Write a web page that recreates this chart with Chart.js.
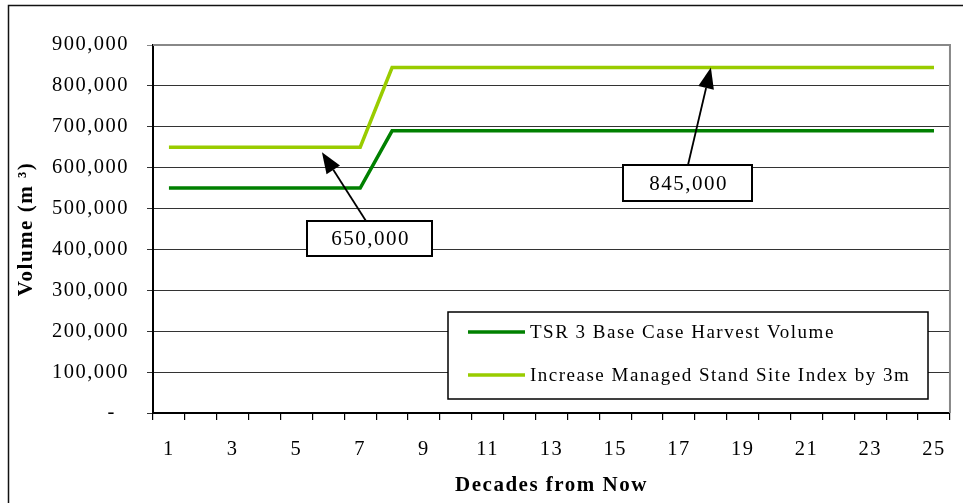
<!DOCTYPE html>
<html><head><meta charset="utf-8">
<script src="https://cdn.jsdelivr.net/npm/chart.js@4/dist/chart.umd.min.js"></script>
<style>html,body{margin:0;padding:0;background:#fff;overflow:hidden}canvas{display:block}</style>
</head><body>
<canvas id="c" width="963" height="503"></canvas>
<script>
// ---- data ----
const decades = ['1','2','3','4','5','6','7','8','9','10','11','12','13','14','15','16','17','18','19','20','21','22','23','24','25'];
const baseCase = [550000,550000,550000,550000,550000,550000,550000,690000,690000,690000,690000,690000,690000,690000,690000,690000,690000,690000,690000,690000,690000,690000,690000,690000,690000];
const increasedSI = [650000,650000,650000,650000,650000,650000,650000,845000,845000,845000,845000,845000,845000,845000,845000,845000,845000,845000,845000,845000,845000,845000,845000,845000,845000];
const seriesNames = ['TSR 3 Base Case Harvest Volume','Increase Managed Stand Site Index by 3m'];
const xTickLabels = ['1','','3','','5','','7','','9','','11','','13','','15','','17','','19','','21','','23','','25'];
const yTickLabels = ['-  ','100,000','200,000','300,000','400,000','500,000','600,000','700,000','800,000','900,000'];
const calloutTexts = ['650,000','845,000'];
const calloutTargets = [[4.8, 638000],[17, 845000]]; // [decade index, volume]

const SERIF = "'Liberation Serif','Times New Roman',serif";
const colors = ['#008000','#99CC00'];

const decorPlugin = {
  id:'decor',
  beforeUpdate(chart){ chart.ctx.letterSpacing = '1.5px'; },
  beforeDraw(chart){
    const ctx = chart.ctx;
    ctx.letterSpacing = '1.5px';
    ctx.save();
    ctx.fillStyle = '#fff';
    ctx.fillRect(0,0,chart.width,chart.height);
    ctx.restore();
  },
  afterDatasetsDraw(chart){
    const ctx = chart.ctx;
    const ca = chart.chartArea;
    const xs = chart.scales.x, ys = chart.scales.y;
    ctx.save();
    // plot area top/right border
    ctx.strokeStyle = '#888';
    ctx.lineWidth = 2;
    ctx.beginPath();
    ctx.moveTo(ca.left, ca.top);
    ctx.lineTo(ca.right, ca.top);
    ctx.lineTo(ca.right, ca.bottom);
    ctx.stroke();
    // outer frame
    ctx.strokeStyle = '#111';
    ctx.lineWidth = 1.5;
    ctx.strokeRect(8.5, 5.5, 1000, 600);

    // callouts
    const boxes = [[307,221,125,35],[623,165,129,36]];
    const tails = [[366,221],[688,165]];
    calloutTexts.forEach((t,i)=>{
      const tip = [xs.getPixelForValue(calloutTargets[i][0]), ys.getPixelForValue(calloutTargets[i][1])];
      const tail = tails[i];
      const dx = tip[0]-tail[0], dy = tip[1]-tail[1];
      const len = Math.hypot(dx,dy);
      const ux = dx/len, uy = dy/len;
      const hl = 21, hw = 8;
      const bx = tip[0]-ux*hl, by = tip[1]-uy*hl;
      ctx.strokeStyle = '#000';
      ctx.lineWidth = 1.8;
      ctx.beginPath();
      ctx.moveTo(tail[0],tail[1]);
      ctx.lineTo(bx,by);
      ctx.stroke();
      ctx.fillStyle = '#000';
      ctx.beginPath();
      ctx.moveTo(tip[0],tip[1]);
      ctx.lineTo(bx - uy*hw, by + ux*hw);
      ctx.lineTo(bx + uy*hw, by - ux*hw);
      ctx.closePath();
      ctx.fill();
      const b = boxes[i];
      ctx.fillStyle = '#fff';
      ctx.fillRect(b[0],b[1],b[2],b[3]);
      ctx.strokeStyle = '#000';
      ctx.lineWidth = 2;
      ctx.strokeRect(b[0],b[1],b[2],b[3]);
      ctx.fillStyle = '#000';
      ctx.font = '21px ' + SERIF;
      ctx.letterSpacing = '1.5px';
      ctx.textAlign = 'center';
      ctx.textBaseline = 'middle';
      ctx.fillText(t, b[0]+b[2]/2+1, b[1]+b[3]/2+1);
    });

    // legend
    const L = [448,312,480,87];
    ctx.fillStyle = '#fff';
    ctx.fillRect(L[0],L[1],L[2],L[3]);
    ctx.strokeStyle = '#000';
    ctx.lineWidth = 1.5;
    ctx.strokeRect(L[0],L[1],L[2],L[3]);
    const rows = [332, 375];
    chart.data.datasets.forEach((ds,i)=>{
      ctx.strokeStyle = ds.borderColor;
      ctx.lineWidth = 3.5;
      ctx.beginPath();
      ctx.moveTo(468, rows[i]);
      ctx.lineTo(525, rows[i]);
      ctx.stroke();
      ctx.fillStyle = '#000';
      ctx.font = '19px ' + SERIF;
      ctx.letterSpacing = '1.5px';
      ctx.textAlign = 'left';
      ctx.textBaseline = 'middle';
      ctx.fillText(ds.label, 530, rows[i]+1);
    });
    ctx.restore();
  }
};

new Chart(document.getElementById('c'), {
  type:'line',
  data:{
    labels: decades,
    datasets:[
      {label: seriesNames[0], data: baseCase, borderColor: colors[0], backgroundColor: colors[0], borderWidth:3.5, pointRadius:0, tension:0, fill:false},
      {label: seriesNames[1], data: increasedSI, borderColor: colors[1], backgroundColor: colors[1], borderWidth:3.5, pointRadius:0, tension:0, fill:false}
    ]
  },
  options:{
    responsive:false,
    animation:false,
    devicePixelRatio:1,
    layout:{padding:{left:0, top:45, right:11, bottom:0}},
    plugins:{legend:{display:false}, tooltip:{enabled:false}},
    scales:{
      x:{
        offset:true,
        grid:{offset:true, drawOnChartArea:false, drawTicks:true, tickLength:7, color:'#000', lineWidth:1.2},
        border:{color:'#000', width:2},
        ticks:{autoSkip:false, maxRotation:0, minRotation:0, padding:17, color:'#000', font:{family:SERIF, size:20.5},
          callback:(v,i)=>xTickLabels[i]},
        title:{display:true, text:'Decades from Now', color:'#000', font:{family:SERIF, size:21, weight:'bold'}, padding:{top:0,bottom:5}},
        afterFit:(s)=>{ s.height = 90; }
      },
      y:{
        min:0, max:900000,
        grid:{color:(c)=> (c.tick && c.tick.value===900000) ? '#888' : '#333', lineWidth:1, drawTicks:true, tickLength:6},
        border:{color:'#000', width:2},
        ticks:{stepSize:100000, padding:18, color:'#000', font:{family:SERIF, size:20.5},
          callback:(v)=>yTickLabels[Math.round(v/100000)]},
        title:{display:true, text:'Volume (m \u00B3)', color:'#000', font:{family:SERIF, size:21, weight:'bold'}, padding:{top:14,bottom:0}},
        afterFit:(s)=>{ s.width = 153; }
      }
    }
  },
  plugins:[decorPlugin]
});
</script>
</body></html>
